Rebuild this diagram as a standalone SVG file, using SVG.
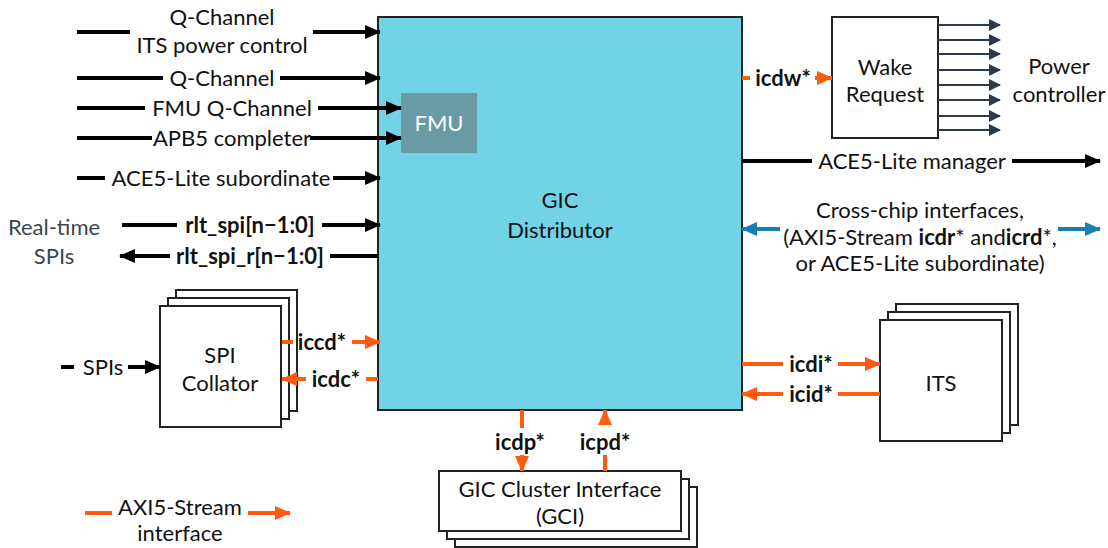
<svg xmlns="http://www.w3.org/2000/svg" width="1108" height="548" viewBox="0 0 1108 548">
<defs>
<style>
text{font-family:Lato,"Open Sans","Liberation Sans",sans-serif;font-size:22px;fill:#111;text-anchor:middle}
.b{font-weight:bold}
.box{fill:#fff;stroke:#222;stroke-width:2}
.k{stroke:#000;stroke-width:4;fill:none}
.o{stroke:#ff5a0f;stroke-width:4;fill:none}
.bl{stroke:#1a7fb0;stroke-width:4;fill:none}
.s{stroke:#2d3a4a;stroke-width:2;fill:none}
</style>
<marker id="ak" markerUnits="userSpaceOnUse" markerWidth="16" markerHeight="14" refX="15" refY="7" orient="auto"><path d="M0,0L16,7L0,14z" fill="#000"/></marker>
<marker id="ao" markerUnits="userSpaceOnUse" markerWidth="16" markerHeight="14" refX="15" refY="7" orient="auto"><path d="M0,0L16,7L0,14z" fill="#ff5a0f"/></marker>
<marker id="ab" markerUnits="userSpaceOnUse" markerWidth="16" markerHeight="14" refX="15" refY="7" orient="auto"><path d="M0,0L16,7L0,14z" fill="#1a7fb0"/></marker>
<marker id="as" markerUnits="userSpaceOnUse" markerWidth="12" markerHeight="12" refX="11" refY="6" orient="auto"><path d="M0,0L12,6L0,12z" fill="#2d3a4a"/></marker>
</defs>

<g id="gic-distributor">
<rect x="378" y="17" width="364" height="393" fill="#72d2e6" stroke="#222" stroke-width="2"/>
<text x="560" y="208">GIC</text>
<text x="560" y="238">Distributor</text>
</g>
<g id="fmu">
<rect x="401" y="93" width="76" height="60" fill="#6a9aa5"/>
<text x="439" y="131" style="fill:#fff">FMU</text>
</g>
<g id="wake-request">
<rect class="box" x="832" y="17" width="106" height="121"/>
<text x="885" y="75">Wake</text>
<text x="885" y="102">Request</text>
</g>
<g id="power-controller">
<text x="1059" y="74">Power</text>
<text x="1059" y="102">controller</text>
</g>
<g id="spi-collator">
<rect class="box" x="176" y="290" width="121" height="121"/>
<rect class="box" x="168" y="298" width="121" height="121"/>
<rect class="box" x="160" y="306" width="121" height="121"/>
<text x="220" y="363">SPI</text>
<text x="220" y="391">Collator</text>
</g>
<g id="its">
<rect class="box" x="896" y="304" width="122" height="121"/>
<rect class="box" x="888" y="312" width="122" height="121"/>
<rect class="box" x="880" y="320" width="122" height="121"/>
<text x="941" y="391">ITS</text>
</g>
<g id="gci">
<rect class="box" x="455" y="487" width="242" height="60"/>
<rect class="box" x="447" y="479" width="242" height="60"/>
<rect class="box" x="439" y="471" width="242" height="60"/>
<text x="560" y="497">GIC Cluster Interface</text>
<text x="560" y="524">(GCI)</text>
</g>
<g id="real-time-spis">
<text x="54" y="235" style="fill:#3a4654">Real-time</text>
<text x="54" y="264" style="fill:#3a4654">SPIs</text>
</g>

<g id="connectors">
<path class="k" d="M77,32H130M313,32H380" marker-end="url(#ak)"/>
<path class="k" d="M77,78H163M280,78H380" marker-end="url(#ak)"/>
<path class="k" d="M77,108H145M318,108H401" marker-end="url(#ak)"/>
<path class="k" d="M77,138H152M310,138H401" marker-end="url(#ak)"/>
<path class="k" d="M77,178H105M333,178H380" marker-end="url(#ak)"/>
<path class="k" d="M122,225H177M322,225H380" marker-end="url(#ak)"/>
<path class="k" d="M378,256H330M170,256H120" marker-end="url(#ak)"/>
<path class="k" d="M61,367H74M128,367H160" marker-end="url(#ak)"/>
<path class="k" d="M742,161H812M1012,161H1100" marker-end="url(#ak)"/>
<path class="bl" d="M780,229H742" marker-end="url(#ab)"/>
<path class="bl" d="M1058,229H1100" marker-end="url(#ab)"/>
<path class="o" d="M282,342H293M352,342H380" marker-end="url(#ao)"/>
<path class="o" d="M378,379H366M306,379H282" marker-end="url(#ao)"/>
<path class="o" d="M742,78H750M815,78H832" marker-end="url(#ao)"/>
<path class="o" d="M742,364H783M838,364H880" marker-end="url(#ao)"/>
<path class="o" d="M880,394H838M783,394H742" marker-end="url(#ao)"/>
<path class="o" d="M522,410V428M522,455V471" marker-end="url(#ao)"/>
<path class="o" d="M605,471V455M605,425V410" marker-end="url(#ao)"/>
<g marker-end="url(#as)" class="s">
<path d="M938,25H1000"/><path d="M938,40H1000"/><path d="M938,54H1000"/><path d="M938,70H1000"/>
<path d="M938,85H1000"/><path d="M938,100H1000"/><path d="M938,116H1000"/><path d="M938,130H1000"/>
</g>
<path class="o" d="M85,513H112M248,513H290" marker-end="url(#ao)"/>
</g>

<g id="labels">
<text x="222" y="25">Q-Channel</text>
<text x="222" y="53">ITS power control</text>
<text x="222" y="86">Q-Channel</text>
<text x="232" y="116">FMU Q-Channel</text>
<text x="232" y="146">APB5 completer</text>
<text x="221" y="186">ACE5-Lite subordinate</text>
<text class="b" x="250" y="233">rlt_spi[n−1:0]</text>
<text class="b" x="250" y="264">rlt_spi_r[n−1:0]</text>
<text x="103" y="375">SPIs</text>
<text class="b" x="322" y="350">iccd*</text>
<text class="b" x="336" y="387">icdc*</text>
<text class="b" x="783" y="86">icdw*</text>
<text class="b" x="811" y="372">icdi*</text>
<text class="b" x="811" y="402">icid*</text>
<text class="b" x="520" y="450">icdp*</text>
<text class="b" x="605" y="450">icpd*</text>
<text x="912" y="169">ACE5-Lite manager</text>
<text x="920" y="218">Cross-chip interfaces,</text>
<text x="920" y="245">(AXI5-Stream <tspan class="b">icdr</tspan>* and<tspan class="b">icrd</tspan>*,</text>
<text x="920" y="271">or ACE5-Lite subordinate)</text>
<text x="180" y="515">AXI5-Stream</text>
<text x="180" y="541">interface</text>
</g>
</svg>
